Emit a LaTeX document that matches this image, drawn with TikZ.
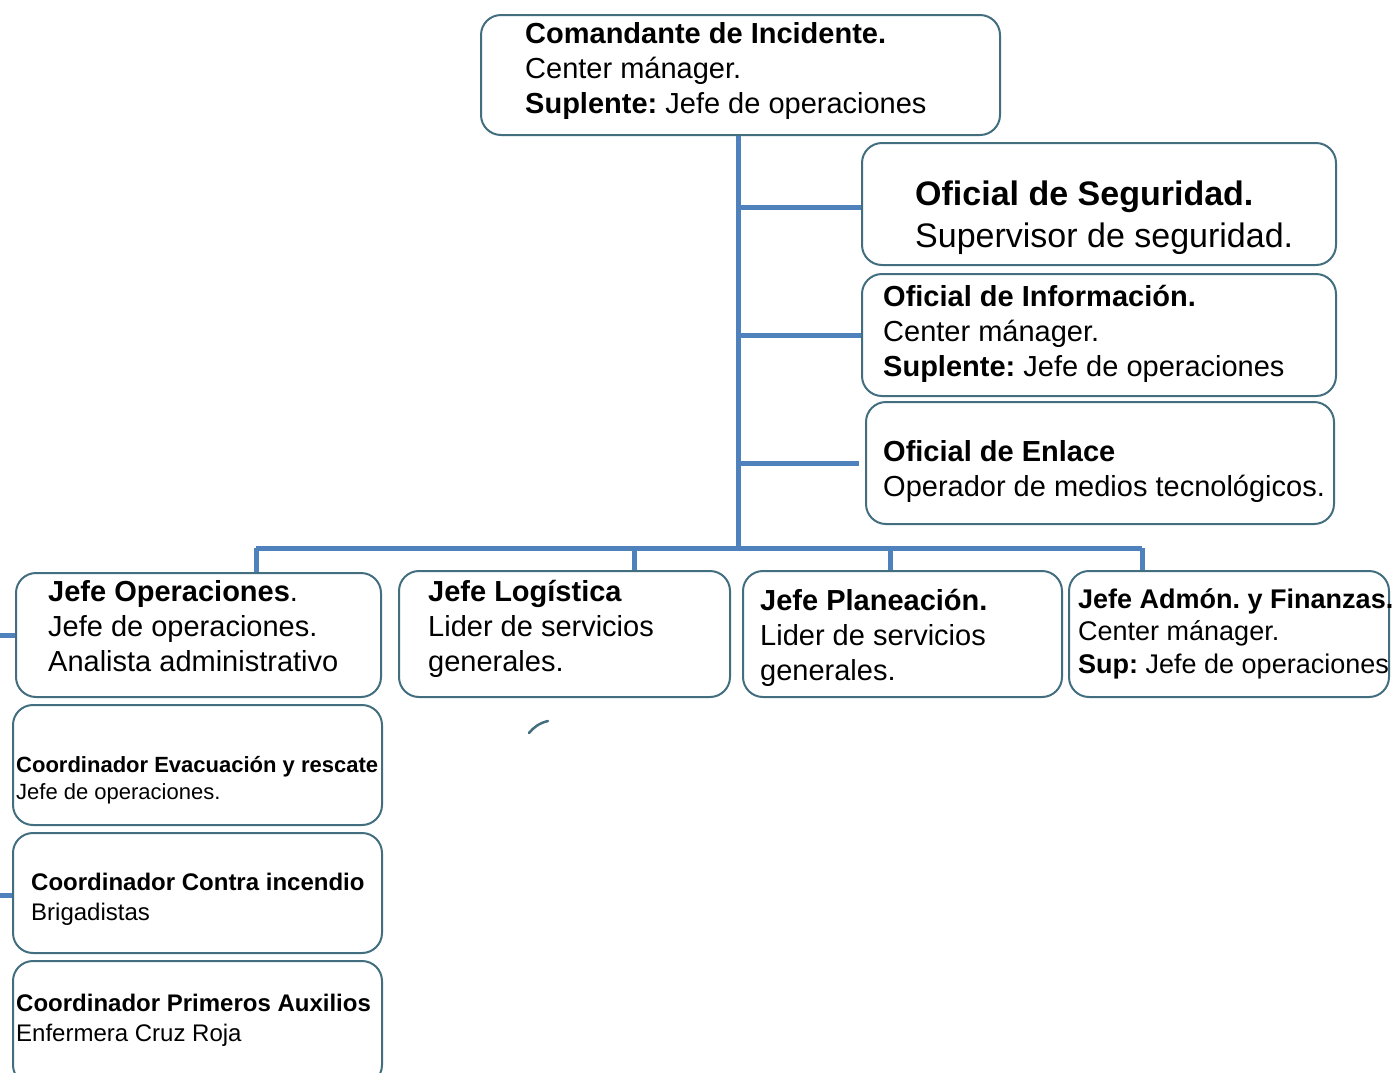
\documentclass[tikz,border=0pt]{standalone}
\usepackage{fontspec}
\setmainfont{Liberation Sans}
\frenchspacing
\definecolor{borde}{RGB}{66,110,128}
\definecolor{azul}{RGB}{79,129,189}
\begin{document}
\begin{tikzpicture}[x=1pt,y=-1pt,line join=round]
	\tikzset{caja/.style={draw=borde,line width=2pt,rounded corners=20pt,inner sep=0pt},
		rama/.style={draw=azul,line width=5pt},
		texto/.style={inner sep=0pt,anchor=north west,align=left,font=\fontsize{29}{35}\selectfont}}
	\clip (0,0) rectangle (1393,1072);
	% cajas
	\node[caja,minimum width=519,minimum height=120] (ci) at (740.5,75) {};
	\node[caja,minimum width=474,minimum height=122] (os) at (1099,204) {};
	\node[caja,minimum width=474,minimum height=122] (oi) at (1099,335) {};
	\node[caja,minimum width=468,minimum height=122] (oe) at (1100,463) {};
	\node[caja,minimum width=365,minimum height=124] (jo) at (198.5,635) {};
	\node[caja,minimum width=331,minimum height=126] (jl) at (564.5,634) {};
	\node[caja,minimum width=319,minimum height=126] (jp) at (902.5,634) {};
	\node[caja,minimum width=320,minimum height=126] (ja) at (1229,634) {};
	\node[caja,minimum width=369,minimum height=120] (ce) at (197.5,765) {};
	\node[caja,minimum width=369,minimum height=120] (cc) at (197.5,893) {};
	\node[caja,minimum width=369,minimum height=124] (cp) at (197.5,1023) {};
	% textos
	\node[texto] (ci-t) at (525,22.5) {\textbf{Comandante de Incidente.}\\Center mánager.\\\textbf{Suplente:} Jefe de operaciones};
	\node[texto,font=\fontsize{34}{42}\selectfont] (os-t) at (915,181) {\textbf{Oficial de Seguridad.}\\Supervisor de seguridad.};
	\node[texto] (oi-t) at (883,285.5) {\textbf{Oficial de Información.}\\Center mánager.\\\textbf{Suplente:} Jefe de operaciones};
	\node[texto] (oe-t) at (883,440.5) {\textbf{Oficial de Enlace}\\Operador de medios tecnológicos.};
	\node[texto] (jo-t) at (48,580.5) {\textbf{Jefe Operaciones}.\\Jefe de operaciones.\\Analista administrativo};
	\node[texto] (jl-t) at (428,580.5) {\textbf{Jefe Logística}\\Lider de servicios\\generales.};
	\node[texto] (jp-t) at (760,589.5) {\textbf{Jefe Planeación.}\\Lider de servicios\\generales.};
	\node[texto,font=\fontsize{27}{32.5}\selectfont] (ja-t) at (1078,588) {\textbf{Jefe Admón. y Finanzas.}\\Center mánager.\\\textbf{Sup:} Jefe de operaciones};
	\node[texto,font=\fontsize{22}{27}\selectfont] (ce-t) at (16,756) {\textbf{Coordinador Evacuación y rescate}\\Jefe de operaciones.};
	\node[texto,font=\fontsize{24}{30}\selectfont] (cc-t) at (31,872.5) {\textbf{Coordinador Contra incendio}\\Brigadistas};
	\node[texto,font=\fontsize{24}{30}\selectfont] (cp-t) at (16,993.5) {\textbf{Coordinador Primeros Auxilios}\\Enfermera Cruz Roja};
	% conectores
	\coordinate (bus) at (738,548);
	\coordinate (b1) at (256,548);
	\coordinate (b2) at (634,548);
	\coordinate (b3) at (890,548);
	\coordinate (b4) at (1142,548);
	\coordinate (izq1) at (-5,635);
	\coordinate (izq2) at (-5,895);
	\draw[rama] (ci.south -| bus) -- (bus);
	\draw[rama] (bus |- os.west) ++(0,3) -- ([yshift=-3pt]os.west);
	\draw[rama] (bus |- oi.west) -- (oi.west);
	\draw[rama] (bus |- oe.west) -- ([xshift=-6pt]oe.west);
	\draw[rama] (b1) -- (b4);
	\draw[rama] (b1) -- (b1 |- jo.north);
	\draw[rama] (b2) -- (b2 |- jl.north);
	\draw[rama] (b3) -- (b3 |- jp.north);
	\draw[rama] (b4) -- (b4 |- ja.north);
	\draw[rama] (izq1) -- (jo.west);
	\draw[rama] (izq2) -- (izq2 -| cc.west);
	\draw[draw=borde,line width=2.5pt,line cap=round] (529,733) .. controls (533,728) and (539,723) .. (548,721);
\end{tikzpicture}
\end{document}
